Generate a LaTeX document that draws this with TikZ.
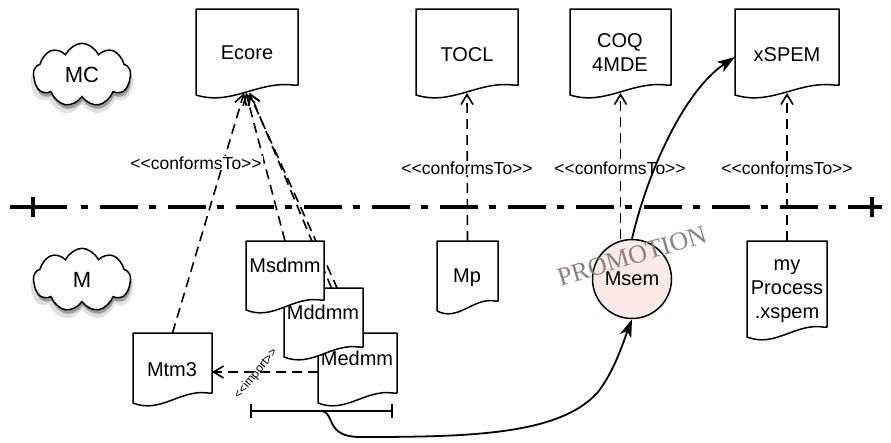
\documentclass[tikz,border=0pt]{standalone}
\usepackage{fontspec}
\setmainfont{Liberation Sans}
\newfontfamily\promofont{Liberation Serif}
\usetikzlibrary{arrows.meta,shapes.symbols,shadows,fit}
\pgfdeclarelayer{bg}
\pgfsetlayers{bg,main}
\definecolor{msempink}{RGB}{252,234,234}
\definecolor{promogray}{RGB}{140,128,128}
\newcommand\st[1]{<{}<#1>{}>}
\newcommand\docu[5]{%
  \path[docline] (#3,#4) -- (#2,#4) -- (#2,{#5+10})
    .. controls ({#2+0.35*(#3-#2)},{#5+21}) and ({#2+0.6*(#3-#2)},{#5-4}) ..
    ({#3-0.05*(#3-#2)},#5) -- (#3,#5) -- cycle;
  \node[docbox, fit={(#2,#4) (#3,{#5+8})}] (#1) {};
}
\tikzset{
  docline/.style={draw=black, line width=1.5pt, fill=white, line join=round},
  docbox/.style={inner sep=0pt, outer sep=0pt, draw=none},
  doctext/.style={font=\fontsize{20}{24}\selectfont, align=center, inner sep=0pt},
  lbl/.style={font=\fontsize{17.5}{20}\selectfont, fill=white, inner sep=1pt},
  conf/.style={draw=black, line width=1.6pt, dash pattern=on 10pt off 6pt,
    -{Straight Barb[length=10pt,width=12pt]}},
  promo/.style={draw=black, line width=1.8pt, -{Stealth[length=18pt,width=12pt,inset=5pt]}},
  sepline/.style={line width=4pt, draw=black},
  cloudshape/.style={cloud, cloud puffs=9, cloud puff arc=110, aspect=2,
    draw=black, line width=1.5pt, fill=white, minimum width=97pt, minimum height=48pt,
    inner sep=0pt, transform shape,
    general shadow={shadow scale=1.06, shadow yshift=-6pt, opacity=.12, fill=black},
    drop shadow={shadow xshift=1pt, shadow yshift=-4pt, opacity=.3, fill=black}},
  cloudtext/.style={font=\fontsize{22}{26}\selectfont, inner sep=0pt},
}
\begin{document}
\begin{tikzpicture}[x=1pt,y=-1pt]
\useasboundingbox (0,0) rectangle (891,442);

% clouds
\begin{scope}[shift={(82,75)}, yscale=1.32]
  \node[cloudshape] (mc-cloud) at (0,0) {};
\end{scope}
\node[cloudtext] (mc) at (82,75) {MC};
\begin{scope}[shift={(82,280)}, yscale=1.32]
  \node[cloudshape] (m-cloud) at (0,0) {};
\end{scope}
\node[cloudtext] (m) at (82,280) {M};

% separator
\draw[sepline] (10,207) -- (67,207);
\draw[sepline, dash pattern=on 7pt off 12pt on 38pt off 11pt] (81,207) -- (882,207);
\draw[sepline] (33,197) -- (33,217);
\draw[sepline] (872,197) -- (872,217);

% upper documents
\docu{ecore}{196}{298}{9}{85}
\node[doctext] (ecore-t) at (247,53) {Ecore};
\docu{tocl}{416}{518}{9}{85}
\node[doctext] (tocl-t) at (467,55) {TOCL};
\docu{coq}{570}{671}{9}{85}
\node[doctext] (coq-t) at (620,53) {COQ\\4MDE};
\docu{xspem}{735}{839}{9}{85}
\node[doctext] (xspem-t) at (787,55) {xSPEM};

% lower documents
\docu{mtm3}{133}{212}{333}{393}
\node[doctext] (mtm3-t) at (172,370) {Mtm3};
\docu{medmm}{318}{397}{333}{393}
\node[doctext] (medmm-t) at (357,358) {Medmm};
\docu{mddmm}{284}{363}{288}{347}
\node[doctext] (mddmm-t) at (323,312) {Mddmm};
\docu{msdmm}{246}{324}{241}{300}
\node[doctext] (msdmm-t) at (285,265) {Msdmm};
\docu{mp}{437}{498}{241}{301}
\node[doctext] (mp-t) at (467,278) {Mp};
\docu{myproc}{747}{827}{241}{327}
\node[doctext] (myproc-t) at (787,291) {my\\Process\\.xspem};

\node[circle, draw=black, line width=1.5pt, fill=msempink, minimum size=79pt,
  inner sep=0pt, font=\fontsize{20}{24}\selectfont] (msem) at (632,279) {Msem};

% conformsTo connectors (behind)
\begin{pgfonlayer}{bg}
\draw[conf] (mtm3.north) -- ([xshift=-3pt]ecore.south);
\draw[conf] (msdmm.north) -- ([xshift=-1pt]ecore.south);
\draw[conf] (medmm.north) -- ([xshift=2pt]ecore.south);
\draw[conf] ([xshift=8pt]mddmm.north) -- ([xshift=3pt]ecore.south);
\draw[conf] (mp.north) -- (tocl.south);
\draw[conf] (coq.south |- msem.north) -- (coq.south);
\draw[conf] (myproc.north) -- (xspem.south);
\draw[conf] ([yshift=-5pt]medmm.west) -- ([yshift=-5pt]mtm3.east);
\end{pgfonlayer}

% labels
\node[lbl] (l-ecore) at (196,163) {\st{conformsTo}};
\node[lbl] (l-tocl) at (467,168) {\st{conformsTo}};
\node[lbl] (l-coq) at (620,168) {\st{conformsTo}};
\node[lbl] (l-xspem) at (787,168) {\st{conformsTo}};
\node[font=\fontsize{12}{14}\selectfont, rotate=51, inner sep=0pt] (l-imp) at (256,374) {\st{import}};

% bracket
\coordinate (brL) at (251,411);
\coordinate (brR) at (392,411);
\coordinate (brM) at (322,411);
\draw[line width=1.5pt] (brL) -- (brR);
\draw[line width=1.5pt] ([yshift=7pt]brL) -- ([yshift=-7pt]brL);
\draw[line width=1.5pt] ([yshift=7pt]brR) -- ([yshift=-7pt]brR);

% promotion
\draw[promo] (brM) .. controls (335,413) and (325,437) .. (360,437)
  .. controls (470,437) and (560,435) .. (598,392)
  .. controls (615,370) and (624,340) .. (msem.south);
\draw[promo] (msem.north) .. controls (648,170) and (685,90) .. ([yshift=-6pt]xspem.west);
\node[font=\promofont\fontsize{26}{30}\selectfont, text=promogray, rotate=17, inner sep=0pt]
  (promotion) at (632,256) {PROMOTION};
\end{tikzpicture}
\end{document}
